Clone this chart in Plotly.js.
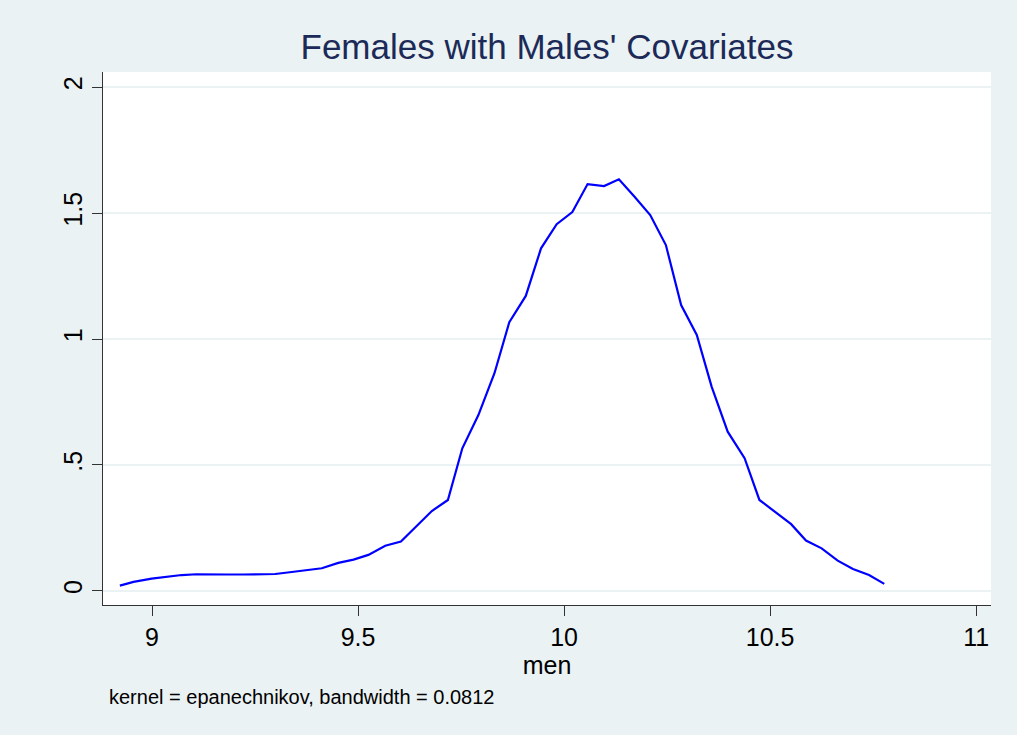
<!DOCTYPE html>
<html><head><meta charset="utf-8">
<script src="https://cdn.plot.ly/plotly-3.0.1.min.js"></script>
<style>html,body{margin:0;padding:0;background:#eaf2f3;}#chart{width:1017px;height:735px;}</style>
</head><body><div id="chart"></div>
<script>
const menX = [8.922,8.955,8.999,9.036,9.072,9.108,9.149,9.185,9.222,9.262,9.299,9.339,9.375,9.412,9.452,9.489,9.525,9.566,9.604,9.642,9.679,9.718,9.753,9.792,9.831,9.867,9.907,9.944,9.982,10.020,10.057,10.097,10.133,10.171,10.209,10.247,10.284,10.322,10.358,10.397,10.438,10.474,10.512,10.551,10.587,10.625,10.664,10.701,10.740,10.777];
const density = [0.021,0.036,0.049,0.056,0.063,0.066,0.067,0.065,0.065,0.067,0.067,0.075,0.082,0.090,0.111,0.124,0.143,0.179,0.196,0.258,0.317,0.361,0.566,0.698,0.864,1.067,1.171,1.360,1.456,1.504,1.615,1.607,1.634,1.565,1.492,1.373,1.135,1.016,0.811,0.632,0.527,0.361,0.312,0.265,0.200,0.169,0.120,0.087,0.063,0.028];
const xTicks = [9, 9.5, 10, 10.5, 11];
const xTickText = ["9", "9.5", "10", "10.5", "11"];
const yTicks = [0, 0.5, 1, 1.5, 2];
const yTickText = ["0", ".5", "1", "1.5", "2"];
const titleText = "Females with Males' Covariates";
const xTitle = "men";
const noteText = "kernel = epanechnikov, bandwidth = 0.0812";

const font = "'Liberation Sans', Arial, sans-serif";
const bg = "#eaf2f3";

Plotly.newPlot("chart", [{
  x: menX, y: density, type: "scatter", mode: "lines",
  line: {color: "#0000ff", width: 2.2}, hoverinfo: "skip"
}], {
  width: 1017, height: 735,
  paper_bgcolor: bg, plot_bgcolor: "#ffffff",
  margin: {l: 103, r: 26, t: 72, b: 130},
  showlegend: false,
  font: {family: font, color: "#000000"},
  title: {text: titleText, font: {family: font, size: 35, color: "#1c2a58"}, xref: "paper", x: 0.5, xanchor: "center", yref: "container", y: 0.936, yanchor: "middle"},
  xaxis: {
    range: [8.881, 11.036], tickvals: xTicks, ticktext: xTickText,
    ticks: "outside", ticklen: 10, tickcolor: "#333333", tickwidth: 1,
    showline: true, linecolor: "#333333", linewidth: 1, mirror: false,
    showgrid: false, zeroline: false,
    tickfont: {family: font, size: 25, color: "#000000"},
    title: {text: xTitle, font: {family: font, size: 25, color: "#000000"}, standoff: 0}
  },
  yaxis: {
    range: [-0.056, 2.06], tickvals: yTicks, ticktext: yTickText,
    ticks: "outside", ticklen: 10, tickcolor: "#333333", tickwidth: 1,
    showline: true, linecolor: "#333333", linewidth: 1,
    showgrid: true, gridcolor: bg, gridwidth: 2, zeroline: false,
    tickangle: -90,
    tickfont: {family: font, size: 25, color: "#000000"}
  },
  annotations: [{
    text: noteText, xref: "paper", yref: "paper", x: 0.0045, y: -0.1726,
    xanchor: "left", yanchor: "middle", showarrow: false,
    font: {family: font, size: 20, color: "#000000"}
  }]
}, {displayModeBar: false, staticPlot: true});
</script></body></html>
